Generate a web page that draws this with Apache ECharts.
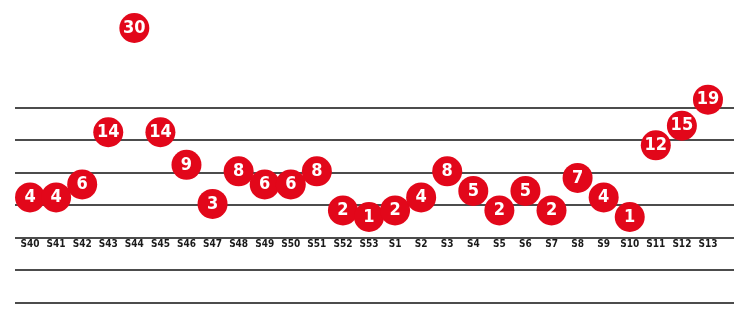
<!DOCTYPE html>
<html>
<head>
<meta charset="utf-8">
<script src="https://cdn.jsdelivr.net/npm/echarts@6/dist/echarts.min.js"></script>
<style>
	html, body { margin: 0; padding: 0; background: #fff; }
	#chart { width: 734px; height: 331px; }
</style>
</head>
<body>
<div id="chart"></div>
<script>
	var weeks = ['S40', 'S41', 'S42', 'S43', 'S44', 'S45', 'S46', 'S47', 'S48', 'S49', 'S50', 'S51', 'S52', 'S53',
		'S1', 'S2', 'S3', 'S4', 'S5', 'S6', 'S7', 'S8', 'S9', 'S10', 'S11', 'S12', 'S13'];
	var counts = [4, 4, 6, 14, 30, 14, 9, 3, 8, 6, 6, 8, 2, 1, 2, 4, 8, 5, 2, 5, 2, 7, 4, 1, 12, 15, 19];
	var ruleTicks = [0, 1, 2, 3, 4, 5, 6];

	var condensed = "'Liberation Sans Narrow', 'DejaVu Sans Condensed', sans-serif";
	var ec = echarts.init(document.getElementById('chart'));
	ec.setOption({
		animation: false,
		grid: [{
			// background rules
			left: 15,
			right: 0,
			top: 107.3,
			bottom: 28.3
		}, {
			// points
			left: 17,
			right: 13,
			top: 28,
			bottom: 107.5
		}],
		xAxis: [{
			gridIndex: 0,
			type: 'value',
			show: false
		}, {
			gridIndex: 1,
			type: 'category',
			data: weeks,
			axisLine: { show: false },
			axisTick: { show: false },
			axisLabel: {
				margin: 16,
				color: '#1a1a1a',
				fontSize: 10,
				fontWeight: 'bold',
				fontFamily: condensed,
				interval: 0
			}
		}],
		yAxis: [{
			gridIndex: 0,
			type: 'value',
			min: ruleTicks[0],
			max: ruleTicks[ruleTicks.length - 1],
			interval: 1,
			axisLine: { show: false },
			axisTick: { show: false },
			axisLabel: { show: false },
			splitLine: {
				show: true,
				lineStyle: { color: '#111', width: 1.5 }
			}
		}, {
			gridIndex: 1,
			type: 'value',
			min: 0,
			max: 30,
			show: false,
			splitLine: { show: false }
		}],
		series: [{
			type: 'scatter',
			xAxisIndex: 1,
			yAxisIndex: 1,
			symbol: 'circle',
			symbolSize: 30,
			itemStyle: {
				color: '#e2071a',
				opacity: 1
			},
			label: {
				show: true,
				position: 'inside',
				color: '#fff',
				fontSize: 18,
				fontWeight: 'bold',
				fontFamily: condensed,
				formatter: function(p) {
					return p.value;
				}
			},
			data: counts
		}]
	});
</script>
</body>
</html>
